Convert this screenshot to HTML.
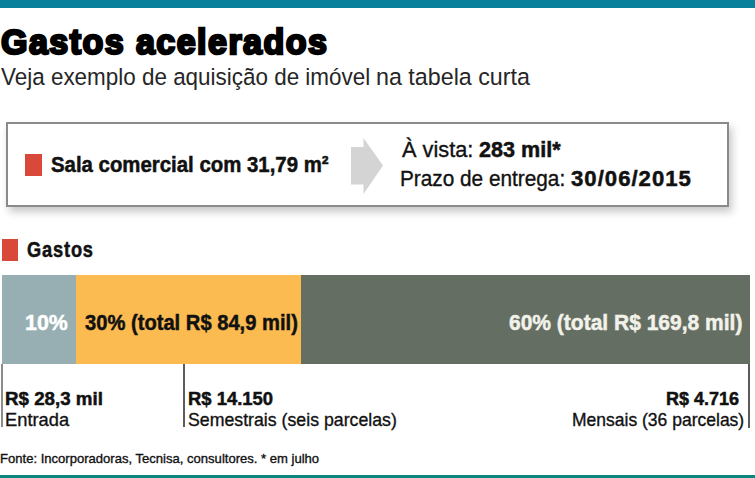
<!DOCTYPE html>
<html><head><meta charset="utf-8">
<style>
html,body{margin:0;padding:0;background:#fff;}
body{width:755px;height:478px;position:relative;overflow:hidden;font-family:"Liberation Sans",sans-serif;color:#111;}
.a{position:absolute;}
.t{position:absolute;white-space:nowrap;transform-origin:0 0;line-height:1;}
.b,b{font-weight:bold;-webkit-text-stroke:0.5px currentColor;}
#title{-webkit-text-stroke:2.5px #000;letter-spacing:1.5px;}
.r{-webkit-text-stroke:0.35px currentColor;}
#prazoB{letter-spacing:1px;}
#gastos{letter-spacing:1px;}
</style></head><body>
<div class="a" style="left:0;top:0;width:755px;height:8px;background:#08809b"></div>
<div class="a" style="left:0;top:475px;width:755px;height:3px;background:#0b867f"></div>

<div id="title" class="t b" style="left:0.89px;top:23.6px;font-size:35px;transform:scaleX(0.9719);color:#000">Gastos acelerados</div>
<div id="sub" class="t" style="left:0.50px;top:64.8px;font-size:24.5px;transform:scaleX(0.9158);color:#262626">Veja exemplo de aquisição de imóvel</div>
<div id="sub2" class="t" style="left:375.95px;top:64.8px;font-size:24.5px;transform:scaleX(0.9500);color:#262626">na tabela curta</div>

<div class="a" style="left:6px;top:122px;width:719px;height:81px;border:2px solid #8a8a8a;box-shadow:3px 5px 8px rgba(0,0,0,0.22);background:#fff"></div>
<div class="a" style="left:25px;top:154px;width:17px;height:22px;background:#d9493a"></div>
<div id="sala" class="t b" style="left:50.64px;top:154.3px;font-size:22.5px;transform:scaleX(0.9058);">Sala comercial com 31,79 m²</div>
<svg class="a" style="left:0;top:0" width="755" height="478"><polygon points="351,147 363.5,147 363.5,138 383,165.5 363.5,194 363.5,184.5 351,184.5" fill="#d4d4d4"/></svg>
<div id="vistaA" class="t r" style="left:402.46px;top:139.07px;font-size:22px;transform:scaleX(0.9896);">À vista:</div>
<div id="vistaB" class="t b" style="left:479.20px;top:139.07px;font-size:22px;transform:scaleX(0.9805);">283 mil*</div>
<div id="prazoA" class="t r" style="left:399.99px;top:168.07px;font-size:22px;transform:scaleX(0.9443);">Prazo de entrega:</div>
<div id="prazoB" class="t b" style="left:570.50px;top:168.07px;font-size:22px;transform:scaleX(1.0067);">30/06/2015</div>

<div class="a" style="left:2px;top:239px;width:16px;height:22px;background:#d9493a"></div>
<div id="gastos" class="t b" style="left:27.45px;top:238.87px;font-size:22px;transform:scaleX(0.8294);">Gastos</div>

<div class="a" style="left:2px;top:275px;width:74px;height:89px;background:#97afb2"></div>
<div class="a" style="left:76px;top:275px;width:225px;height:89px;background:#fcbb50"></div>
<div class="a" style="left:301px;top:275px;width:449px;height:89px;background:#656e62"></div>
<div id="p10" class="t b" style="left:25.16px;top:312.3px;font-size:22px;transform:scaleX(0.9706);color:#fff">10%</div>
<div id="p30" class="t b" style="left:84.75px;top:312.3px;font-size:22px;transform:scaleX(0.9164);color:#111">30% (total R$ 84,9 mil)</div>
<div id="p60" class="t b" style="left:508.59px;top:312.3px;font-size:22px;transform:scaleX(0.9544);color:#f2f2ea">60% (total R$ 169,8 mil)</div>

<div class="a" style="left:1px;top:364px;width:2px;height:63px;background:#8c8c8c"></div>
<div class="a" style="left:183px;top:364px;width:2px;height:63px;background:#5c5c5c"></div>
<div class="a" style="left:748px;top:364px;width:2px;height:64px;background:#5a5a5a"></div>

<div id="v1" class="t b" style="left:5.23px;top:388.91px;font-size:19px;transform:scaleX(0.9866);">R$ 28,3 mil</div>
<div id="l1" class="t r" style="left:4.86px;top:410.45px;font-size:19px;transform:scaleX(0.9632);">Entrada</div>
<div id="v2" class="t b" style="left:188.42px;top:388.91px;font-size:19px;transform:scaleX(0.9693);">R$ 14.150</div>
<div id="l2" class="t r" style="left:188.17px;top:410.45px;font-size:19px;transform:scaleX(0.9329);">Semestrais (seis parcelas)</div>
<div id="v3" class="t b" style="left:666.00px;top:388.91px;font-size:19px;transform:scaleX(0.9474);">R$ 4.716</div>
<div id="l3" class="t r" style="left:571.72px;top:410.45px;font-size:19px;transform:scaleX(0.9213);">Mensais (36 parcelas)</div>

<div id="fonte" class="t r" style="left:0.27px;top:452.49px;font-size:13px;transform:scaleX(1.0045);">Fonte: Incorporadoras, Tecnisa, consultores. * em julho</div>
</body></html>
